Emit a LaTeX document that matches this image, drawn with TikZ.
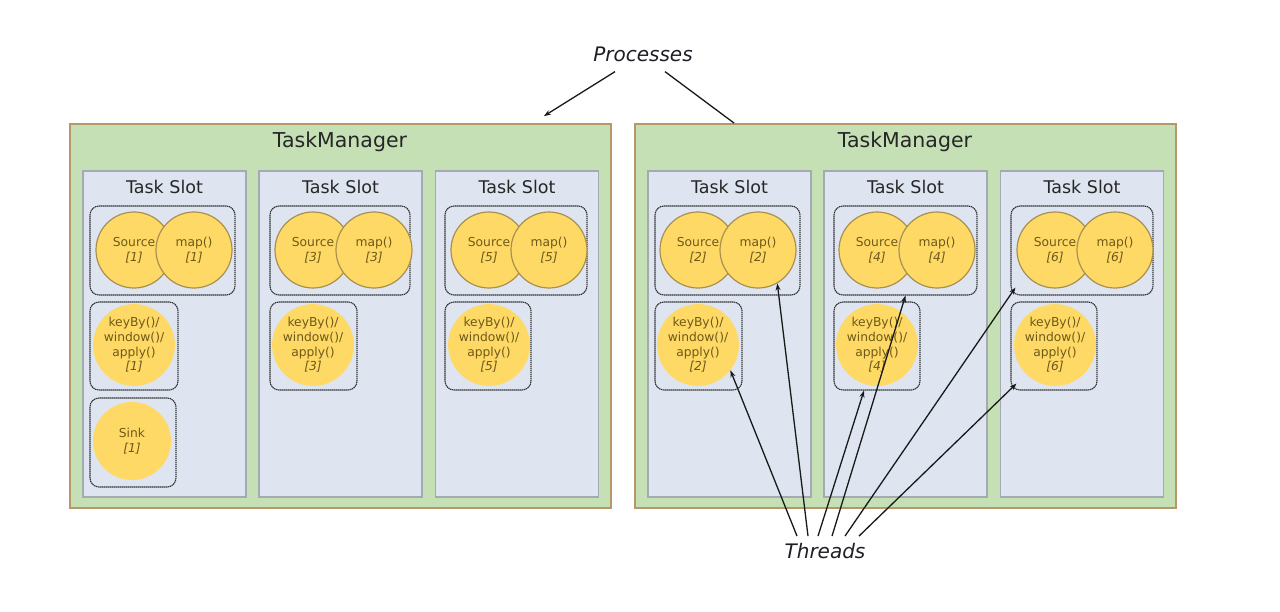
\documentclass[tikz,border=0pt]{standalone}
\usepackage{fontspec}
\setmainfont{DejaVu Sans}
\usetikzlibrary{calc,arrows.meta}
\definecolor{tmfill}{HTML}{C5E0B4}
\definecolor{tmdraw}{HTML}{B5976A}
\definecolor{slotfill}{HTML}{DEE5F1}
\definecolor{slotdraw}{HTML}{A4AAB2}
\definecolor{opfill}{HTML}{FFD966}
\definecolor{opdraw}{HTML}{A89050}
\definecolor{optext}{HTML}{6E5A18}
\definecolor{labtext}{HTML}{1E1E28}
\tikzset{
  tmbox/.style={draw=tmdraw,fill=tmfill,line width=1.8pt,minimum width=541pt,minimum height=384pt,inner sep=0pt},
  slotbox/.style={draw=slotdraw,fill=slotfill,line width=1.4pt,minimum width=163pt,minimum height=326pt,inner sep=0pt},
  grpbox/.style={draw=black!80,line width=1.1pt,dash pattern=on 1.4pt off 0.6pt,rounded corners=9pt,inner sep=0pt},
  opcirc/.style={circle,fill=opfill,draw=opdraw,line width=1.2pt,minimum size=76pt,inner sep=0pt,align=center,text=optext,font=\fontsize{12.3}{15}\selectfont},
  kcirc/.style={circle,fill=opfill,minimum size=78pt,inner sep=0pt,align=center,text=optext,font=\fontsize{12.3}{14.7}\selectfont},
  tmtitle/.style={font=\fontsize{20.5}{24}\selectfont,text=black!85,inner sep=0pt},
  slottitle/.style={font=\fontsize{17.5}{20}\selectfont,text=black!85,inner sep=0pt},
  lab/.style={font=\fontsize{20}{24}\selectfont\itshape,text=labtext,inner sep=0pt},
  arr/.style={-{Stealth[length=7pt,width=5pt]},line width=1.3pt,black!90},
}
\begin{document}
\begin{tikzpicture}[x=1pt,y=-1pt]
\useasboundingbox (0,0) rectangle (1280,611);
\fill[white] (0,0) rectangle (1280,611);

% TaskManagers
\node[tmbox] (tm1) at (340.5,316) {};
\node[tmbox] (tm2) at (905.5,316) {};
\node[tmtitle] (tmt1) at (340,142) {TaskManager};
\node[tmtitle] (tmt2) at (905,142) {TaskManager};

% Slots
\foreach \n/\x in {a/164.5,b/340.5,c/517,d/729.5,e/905.5,f/1082}{
  \node[slotbox] (slot\n) at (\x,334) {};
  \node[slottitle] (st\n) at (\x,187) {Task Slot};
}

% group boxes top (source/map)
\foreach \n/\xl/\xr in {1/90/235,3/270/410,5/445/587,2/655/800,4/834/977,6/1011/1153}{
  \node[grpbox,minimum width=\xr pt-\xl pt,minimum height=89pt] (tg\n) at ({(\xl+\xr)/2},250.5) {};
}
% group boxes keyBy
\foreach \n/\xl/\xr in {1/90/178,3/270/357,5/445/531,2/655/742,4/834/920,6/1011/1097}{
  \node[grpbox,minimum width=\xr pt-\xl pt,minimum height=88pt] (kg\n) at ({(\xl+\xr)/2},346) {};
}
% sink group
\node[grpbox,minimum width=86pt,minimum height=89pt] (sg1) at (133,442.5) {};

% operator circles
\foreach \n/\xs/\xm in {1/134/194,3/313/374,5/489/549,2/698/758,4/877/937,6/1055/1115}{
  \node[opcirc] (s\n) at (\xs,250) {Source\\\textit{[\n]}};
  \node[opcirc] (m\n) at (\xm,250) {map()\\\textit{[\n]}};
}
\foreach \n/\x in {1/134,3/313,5/489,2/698,4/877,6/1055}{
  \node[kcirc] (k\n) at (\x,345) {keyBy()/\\window()/\\apply()\\\textit{[\n]}};
}
\node[kcirc] (sink1) at (132,441) {Sink\\\textit{[1]}};

% labels
\node[lab] (pr) at (643,54) {Processes};
\node[lab] (th) at (825,551) {Threads};

% process arrows
\draw[arr] ([xshift=-28pt,yshift=-10pt]pr.south) -- ([xshift=-68pt,yshift=7pt]tm1.north east);
\draw[line width=1.3pt,black!90] ([xshift=22pt,yshift=-10pt]pr.south) -- ([xshift=100pt]tm2.north west);

% thread arrows
\draw[arr] ([xshift=-28pt,yshift=7pt]th.north) -- (k2.-38);
\draw[arr] ([xshift=-17pt,yshift=7pt]th.north) -- (m2.-60);
\draw[arr] ([xshift=-7pt,yshift=7pt]th.north) -- ([xshift=-13pt]kg4.south);
\draw[arr] ([xshift=7pt,yshift=7pt]th.north) -- (tg4.south);
\draw[arr] ([xshift=20pt,yshift=7pt]th.north) -- ([xshift=5pt,yshift=8pt]tg6.south west);
\draw[arr] ([xshift=34pt,yshift=7pt]th.north) -- ([xshift=6pt,yshift=7pt]kg6.south west);
\end{tikzpicture}
\end{document}
